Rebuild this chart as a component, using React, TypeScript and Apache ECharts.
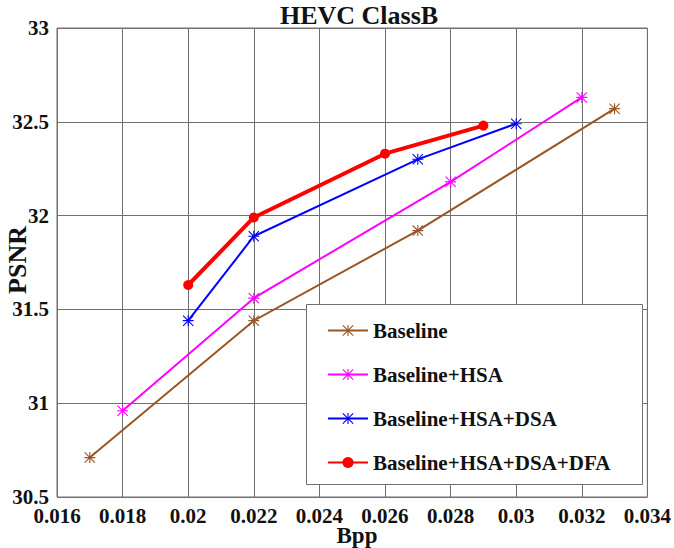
import React, { useEffect, useRef } from "react";
import * as echarts from "echarts";

const xTicks = [0.016, 0.034, 0.002];
const yTicks = [30.5, 33, 0.5];

const seriesNames = ["Baseline", "Baseline+HSA", "Baseline+HSA+DSA", "Baseline+HSA+DSA+DFA"];

const baselineBpp = [0.017, 0.022, 0.027, 0.033];
const baselinePsnr = [30.71, 31.44, 31.92, 32.57];

const hsaBpp = [0.018, 0.022, 0.028, 0.032];
const hsaPsnr = [30.96, 31.56, 32.18, 32.63];

const dsaBpp = [0.02, 0.022, 0.027, 0.03];
const dsaPsnr = [31.44, 31.89, 32.3, 32.49];

const dfaBpp = [0.02, 0.022, 0.026, 0.029];
const dfaPsnr = [31.63, 31.99, 32.33, 32.48];

const colors = ["#9A5524", "#FF00FF", "#0000FF", "#FF0000"];

const ASTERISK =
  "path://M9 0 H11 V20 H9 Z M0 9 H20 V11 H0 Z M1.4 0 L20 18.6 L18.6 20 L0 1.4 Z M18.6 0 L20 1.4 L1.4 20 L0 18.6 Z";

const FONT = "'Times New Roman', 'Liberation Serif', serif";

function pairs(xs: number[], ys: number[]) {
  return xs.map((x, i) => [x, ys[i]]);
}

export default function App() {
  const ref = useRef<HTMLDivElement>(null);
  useEffect(() => {
    if (!ref.current) return;
    const chart = echarts.init(ref.current, undefined, { renderer: "svg" });
    const datasets = [
      pairs(baselineBpp, baselinePsnr),
      pairs(hsaBpp, hsaPsnr),
      pairs(dsaBpp, dsaPsnr),
      pairs(dfaBpp, dfaPsnr),
    ];
    const series: any[] = datasets.map((d, i) => ({
      name: seriesNames[i],
      type: "line",
      data: d,
      symbol: i === 3 ? "circle" : ASTERISK,
      symbolSize: i === 3 ? 10 : 11,
      showSymbol: true,
      lineStyle: { color: colors[i], width: i === 3 ? 4 : 2 },
      itemStyle: { color: colors[i] },
      z: 3 + i,
    }));
    chart.setOption({
      animation: false,
      backgroundColor: "#ffffff",
      grid: {
        left: 57,
        right: 24,
        top: 28,
        bottom: 51,
        show: true,
        borderColor: "#707070",
        borderWidth: 1,
      },
      xAxis: {
        type: "value",
        min: xTicks[0],
        max: xTicks[1],
        interval: xTicks[2],
        axisLine: { show: false },
        axisTick: { show: false },
        splitLine: { show: true, lineStyle: { color: "#707070", width: 1 } },
        axisLabel: {
          margin: 11,
          fontFamily: FONT,
          fontWeight: "bold",
          fontSize: 21,
          lineHeight: 16,
          color: "#111",
          formatter: (v: number) => String(parseFloat(v.toFixed(3))),
        },
      },
      yAxis: {
        type: "value",
        min: yTicks[0],
        max: yTicks[1],
        interval: yTicks[2],
        axisLine: { show: false },
        axisTick: { show: false },
        splitLine: { show: true, lineStyle: { color: "#707070", width: 1 } },
        axisLabel: {
          margin: 8,
          fontFamily: FONT,
          fontWeight: "bold",
          fontSize: 21,
          color: "#111",
          formatter: (v: number) => String(parseFloat(v.toFixed(1))),
        },
      },
      legend: {
        orient: "vertical",
        left: 327,
        top: 320,
        padding: 0,
        itemWidth: 40,
        itemHeight: 14,
        itemGap: 23,
        z: 20,
        data: seriesNames,
        textStyle: {
          fontFamily: FONT,
          fontWeight: "bold",
          fontSize: 21,
          lineHeight: 20,
          color: "#111",
          padding: [0, 0, 0, 0],
        },
      },
      graphic: [
        {
          type: "rect",
          shape: { x: 306.5, y: 304.5, width: 336, height: 180 },
          style: { fill: "#ffffff", stroke: "#707070", lineWidth: 1 },
          z: 10,
        },
        {
          type: "text",
          x: 359,
          y: 15,
          style: {
            text: "HEVC ClassB",
            font: `bold 26px ${FONT}`,
            fill: "#111",
            textAlign: "center",
            textVerticalAlign: "middle",
          },
        },
        {
          type: "text",
          x: 357,
          y: 535,
          style: {
            text: "Bpp",
            font: `bold 23px ${FONT}`,
            lineHeight: 20,
            fill: "#111",
            textAlign: "center",
            textVerticalAlign: "middle",
          },
        },
        {
          type: "text",
          x: 17,
          y: 260,
          rotation: Math.PI / 2,
          style: {
            text: "PSNR",
            font: `bold 26px ${FONT}`,
            fill: "#111",
            textAlign: "center",
            textVerticalAlign: "middle",
          },
        },
      ],
      series,
    });
    return () => chart.dispose();
  }, []);
  return (
    <div
      ref={ref}
      style={{ position: "fixed", left: 0, top: 0, width: 674, height: 548 }}
    />
  );
}
